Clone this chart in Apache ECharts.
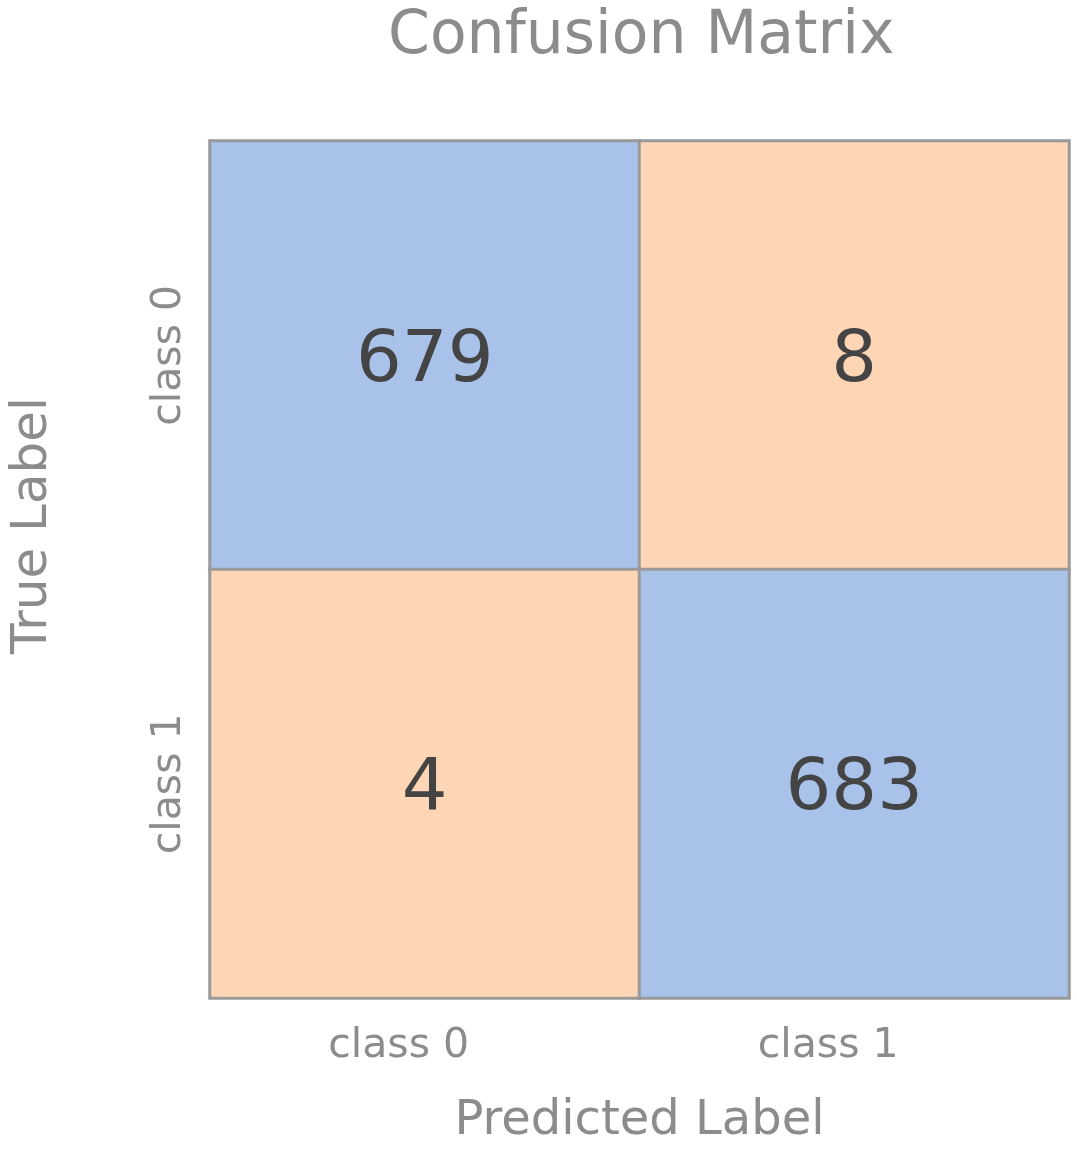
<!DOCTYPE html>
<html>
<head>
<meta charset="utf-8">
<script src="https://cdn.jsdelivr.net/npm/echarts@6/dist/echarts.min.js"></script>
<style>
html,body{margin:0;padding:0;background:#fff;}
#chart{width:1077px;height:1151px;}
</style>
</head>
<body>
<div id="chart"></div>
<script>
const predictedCategories = ['class 0', 'class 1'];
const trueCategories = ['class 0', 'class 1'];
// [predictedIndex, trueIndex, count]
const matrixValues = [
  [0, 0, 679],
  [1, 0, 8],
  [0, 1, 4],
  [1, 1, 683]
];
const titleText = 'Confusion Matrix';
const xAxisName = 'Predicted Label';
const yAxisName = 'True Label';

const FONT = 'DejaVu Sans';
const chart = echarts.init(document.getElementById('chart'));
chart.setOption({
  backgroundColor: '#ffffff',
  animation: false,
  title: {
    text: titleText,
    left: 383,
    top: 2,
    textStyle: { fontFamily: FONT, fontSize: 60, fontWeight: 'normal', color: '#8c8c8c' }
  },
  grid: { left: 209, right: 8, top: 141, bottom: 150 },
  xAxis: {
    type: 'category',
    data: predictedCategories,
    name: xAxisName,
    nameLocation: 'middle',
    nameGap: 100,
    nameTextStyle: { fontFamily: FONT, fontSize: 48, color: '#8c8c8c' },
    axisLine: { show: false },
    axisTick: { show: false },
    splitLine: { show: false },
    axisLabel: { fontFamily: FONT, fontSize: 41, color: '#8c8c8c', margin: 28, padding: [0, 52, 0, 0] }
  },
  yAxis: {
    type: 'category',
    data: trueCategories,
    inverse: true,
    name: yAxisName,
    nameLocation: 'middle',
    nameRotate: 90,
    nameGap: 152,
    nameTextStyle: { fontFamily: FONT, fontSize: 50, color: '#8c8c8c', padding: [0, 0, 0, 88] },
    axisLine: { show: false },
    axisTick: { show: false },
    splitLine: { show: false },
    axisLabel: { fontFamily: FONT, fontSize: 41, color: '#8c8c8c', rotate: 90, margin: 20 }
  },
  visualMap: {
    show: false,
    type: 'piecewise',
    dimension: 2,
    pieces: [
      { min: 100, color: '#a8c2ea' },
      { max: 100, color: '#fed6b6' }
    ]
  },
  series: [{
    type: 'heatmap',
    data: matrixValues,
    itemStyle: { borderColor: '#999999', borderWidth: 3 },
    label: {
      show: true,
      fontFamily: FONT,
      fontSize: 72,
      color: '#444444',
      offset: [0, 7],
      formatter: p => p.value[2]
    },
    emphasis: { disabled: true }
  }]
});
</script>
</body>
</html>
